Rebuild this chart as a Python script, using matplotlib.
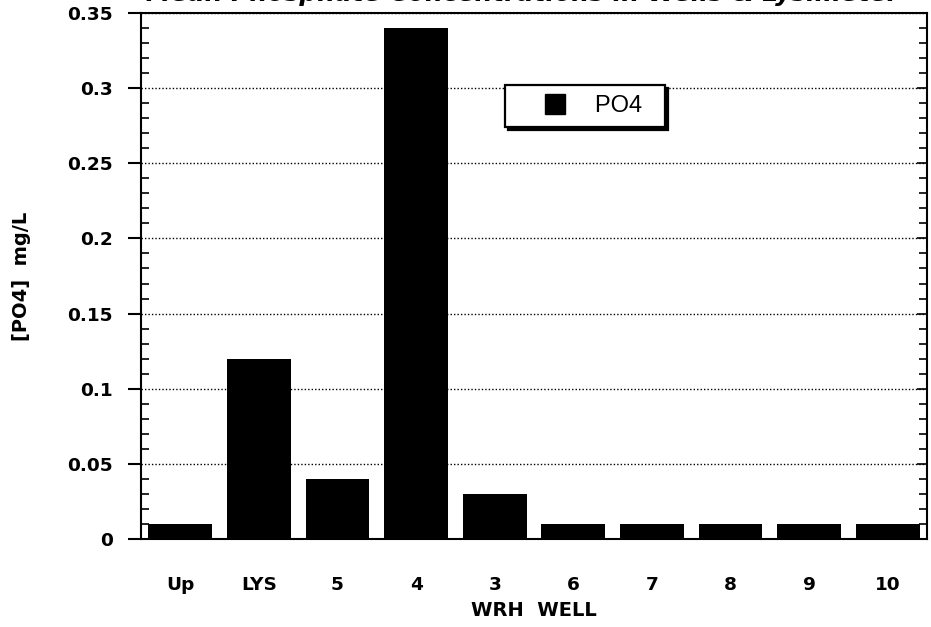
import numpy as np
import matplotlib.pyplot as plt
from matplotlib.lines import Line2D
from matplotlib.ticker import MultipleLocator, FormatStrFormatter

# Mean phosphate per sampling point
wells = ["Up", "LYS", "5", "4", "3", "6", "7", "8", "9", "10"]
po4 = [0.01, 0.12, 0.04, 0.34, 0.03, 0.01, 0.01, 0.01, 0.01, 0.01]

plt.rcParams['font.family'] = ['DejaVu Sans']

fig = plt.figure(figsize=(9.31, 6.27), dpi=100)
ax = fig.add_axes([141 / 931, 88 / 627, 786 / 931, 526 / 627])

x = np.arange(len(wells))
ax.bar(x, po4, width=0.81, color='black', label='PO4', zorder=3)

ax.set_xlim(-0.5, len(wells) - 0.5)
ax.set_ylim(0, 0.35)
ax.yaxis.set_major_locator(MultipleLocator(0.05))
ax.yaxis.set_minor_locator(MultipleLocator(0.01))
ax.yaxis.set_major_formatter(FormatStrFormatter('%g'))

ax.set_xticks(x)
ax.set_xticklabels(wells, fontsize=13.3, fontweight='bold')
ax.tick_params(axis='x', length=0, pad=27)
ax.tick_params(axis='y', which='major', direction='out', length=9.5, width=1.5,
               labelsize=13.3, pad=11)
ax.tick_params(axis='y', which='minor', direction='in', length=5.5, width=1.2,
               left=True, right=True)
for lab in ax.get_yticklabels():
    lab.set_fontweight('bold')

# inward major ticks on the right-hand side
rax = ax.twinx()
rax.set_ylim(ax.get_ylim())
rax.yaxis.set_major_locator(MultipleLocator(0.05))
rax.yaxis.set_minor_locator(MultipleLocator(0.01))
rax.tick_params(axis='y', which='both', direction='in', labelright=False, width=1.2)
rax.tick_params(axis='y', which='major', length=7.5)
rax.tick_params(axis='y', which='minor', length=5.5)
for s in rax.spines.values():
    s.set_visible(False)

ax.grid(axis='y', which='major', color='black', linestyle=(0, (1, 1.5)), linewidth=1, zorder=1)
for s in ax.spines.values():
    s.set_linewidth(1.5)

ax.set_ylabel("[PO4]  mg/L", fontsize=14, fontweight='bold', labelpad=26)
ax.set_xlabel("WRH  WELL", fontsize=14, fontweight='bold', labelpad=5)

handle = Line2D([], [], marker='s', color='black', linestyle='none', markersize=15)
leg = ax.legend([handle], ['PO4'], loc='upper left', bbox_to_anchor=(0.463, 0.863),
                fancybox=False, edgecolor='black', handlelength=3.4,
                borderpad=0.42, handletextpad=0.0, borderaxespad=0,
                prop={'family': 'Liberation Sans', 'size': 17},
                shadow={'color': 'black', 'alpha': 1}, framealpha=1)
leg.get_frame().set_linewidth(1.6)
leg.get_texts()[0].set_text('PO4  ')

fig.text(523 / 931, 1 - 1 / 627, "Mean Phosphate Concentrations in Wells & Lysimeter",
         ha='center', va='baseline', fontsize=18, fontweight='bold', style='italic')

fig.savefig("out.png", dpi=100)
